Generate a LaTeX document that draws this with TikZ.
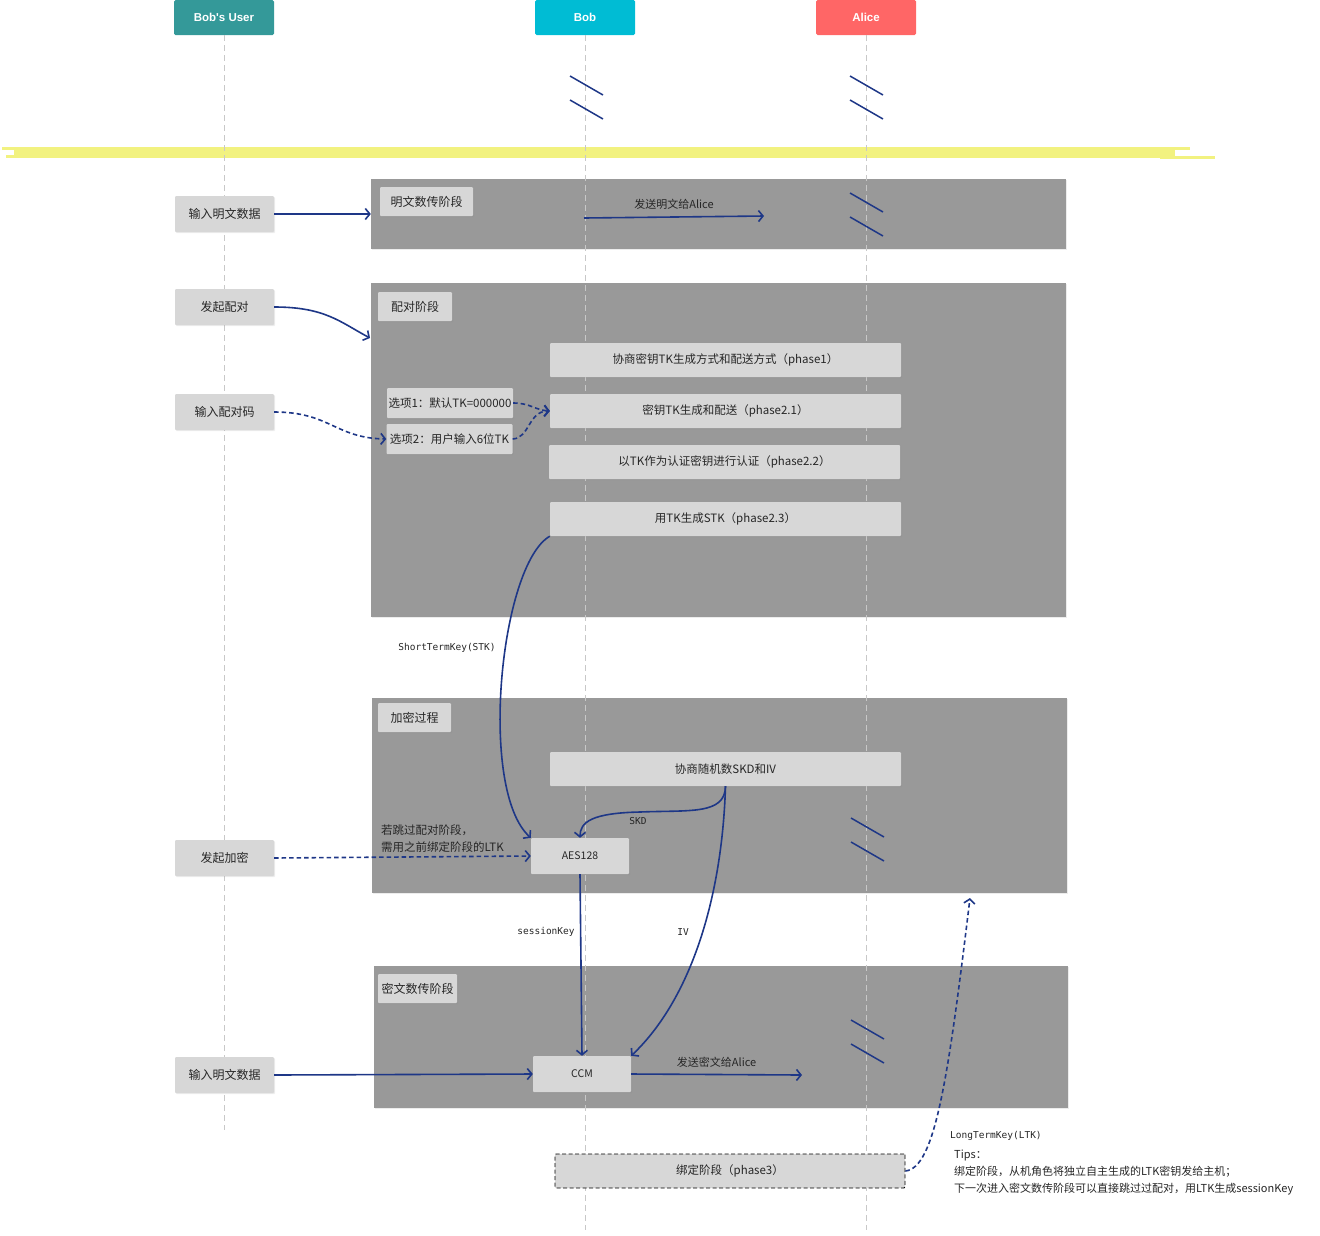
\documentclass[tikz,border=0pt]{standalone}
\usepackage{fontspec}
\setmainfont{Noto Sans CJK SC}
\newfontfamily\headfont{Liberation Sans}
\newfontfamily\monofont{DejaVu Sans Mono}
\usetikzlibrary{arrows.meta,shadows}

\definecolor{hdteal}{RGB}{52,153,153}
\definecolor{hdcyan}{RGB}{0,188,212}
\definecolor{hdred}{RGB}{255,102,102}
\definecolor{zonegray}{RGB}{153,153,153}
\definecolor{boxgray}{RGB}{215,215,215}
\definecolor{lifegray}{RGB}{200,200,200}
\definecolor{txtgray}{RGB}{38,38,38}
\definecolor{flowblue}{RGB}{30,55,135}
\definecolor{hilite}{RGB}{242,242,128}

\tikzset{
  head/.style={fill=#1, text=white, font=\headfont\bfseries\fontsize{11.5}{13}\selectfont,
    minimum width=100pt, minimum height=35pt, rounded corners=1.5pt, inner sep=0pt},
  zone/.style={fill=zonegray, inner sep=0pt,
    drop shadow={opacity=.15, shadow xshift=1pt, shadow yshift=-1pt}},
  box/.style={fill=boxgray, text=txtgray, font=\fontsize{11.5}{13}\selectfont, inner sep=0pt,
    rounded corners=1pt, drop shadow={opacity=.15, shadow xshift=1pt, shadow yshift=-1pt}},
  btn/.style={box, minimum width=99pt, minimum height=36pt, font=\fontsize{12}{14}\selectfont},
  tag/.style={box, minimum height=29pt, font=\fontsize{12}{14}\selectfont},
  stagebox/.style={box, minimum width=351pt, minimum height=34pt},
  optbox/.style={box, minimum width=126pt, minimum height=30pt},
  keybox/.style={box, minimum width=98pt, minimum height=36pt, font=\fontsize{10.5}{12}\selectfont},
  bindbox/.style={fill=boxgray, text=txtgray, font=\fontsize{11.5}{13}\selectfont, inner sep=0pt,
    minimum width=350pt, minimum height=34pt, draw=black, line width=.8pt,
    dash pattern=on 4pt off 2.5pt, rounded corners=1pt},
  life/.style={draw=lifegray, line width=.9pt, dash pattern=on 6pt off 4pt},
  brk/.style={draw=flowblue, line width=1.5pt},
  flow/.style={draw=flowblue, line width=1.6pt, -{Straight Barb[length=4.5pt,width=11pt]}},
  dotflow/.style={dash pattern=on 4.5pt off 3pt},
  cntext/.style={text=txtgray, font=\fontsize{11.5}{17}\selectfont, inner sep=1pt},
  keytext/.style={text=txtgray, font=\monofont\fontsize{9.5}{12}\selectfont, inner sep=1pt}
}

\begin{document}
\begin{tikzpicture}[x=1pt,y=-1pt]
\useasboundingbox (0,0) rectangle (1320,1235);
% heads
\node[head=hdteal] (user) at (224,17.5) {Bob's User};
\node[head=hdcyan] (bob) at (585,17.5) {Bob};
\node[head=hdred] (alice) at (866,17.5) {Alice};
% highlight band
\draw[hilite, line width=11pt] (14,152.5) -- (1175,152.5);
\draw[hilite, line width=3pt] (2,148.5) -- (50,148.5) (6,156) -- (30,156) (1150,148) -- (1190,148) (1160,157) -- (1215,157);
% zones
\node[zone, minimum width=695pt, minimum height=70pt] (zplain) at (718.5,214) {};
\node[zone, minimum width=695pt, minimum height=334pt] (zpair) at (718.5,450) {};
\node[zone, minimum width=695pt, minimum height=195pt] (zenc) at (719.5,795.5) {};
\node[zone, minimum width=694pt, minimum height=142pt] (zcipher) at (721,1037) {};
% lifelines
\coordinate (userend) at (224,1130);
\coordinate (bobend) at (585,1230);
\coordinate (aliceend) at (866,1230);
\draw[life] (user.south) -- (userend);
\draw[life] (bob.south) -- (bobend);
\draw[life] (alice.south) -- (aliceend);
% breaks
\foreach \x/\y in {586/76, 866/76, 866/193, 867/818, 867/1020} {
  \draw[brk] (\x-16,\y) -- (\x+17,\y+19);
  \draw[brk] (\x-16,\y+24) -- (\x+17,\y+43);
}
% user actions
\node[btn] (inplain) at (224.5,214) {输入明文数据};
\node[btn] (pairbtn) at (224.5,307) {发起配对};
\node[btn] (codebtn) at (224.5,412) {输入配对码};
\node[btn] (encbtn) at (224.5,858) {发起加密};
\node[btn] (incipher) at (224.5,1075) {输入明文数据};
% zone tags
\node[tag, minimum width=93pt] (tplain) at (426.5,201.5) {明文数传阶段};
\node[tag, minimum width=74pt] (tpair) at (415,306.5) {配对阶段};
\node[tag, minimum width=73pt] (tenc) at (414.5,717.5) {加密过程};
\node[tag, minimum width=79pt] (tcipher) at (417.5,988.5) {密文数传阶段};
% pairing
\node[stagebox] (ph1) at (725.5,360) {协商密钥TK生成方式和配送方式（phase1）};
\node[stagebox] (ph21) at (725.5,411) {密钥TK生成和配送（phase2.1）};
\node[stagebox] (ph22) at (724.5,462) {以TK作为认证密钥进行认证（phase2.2）};
\node[stagebox] (ph23) at (725.5,519) {用TK生成STK（phase2.3）};
\node[optbox] (opt1) at (450,403) {选项1：默认TK=000000};
\node[optbox] (opt2) at (449.5,439) {选项2：用户输入6位TK};
% encryption
\node[stagebox] (skdiv) at (725.5,769) {协商随机数SKD和IV};
\node[keybox] (aes) at (580,856) {AES128};
\node[keybox] (ccm) at (582,1074) {CCM};
\node[bindbox] (bind) at (730,1171) {绑定阶段（phase3）};

% plain data
\draw[flow] (inplain.east) -- (inplain.east -| zplain.west);
\coordinate (sendA) at (584,218);
\coordinate (sendB) at (764,216);
\draw[flow] (sendA) -- node[above=6pt, cntext, font=\fontsize{11}{12}\selectfont] (sendplain) {发送明文给Alice} (sendB);
% pairing
\coordinate (pairin) at (370,338);
\draw[flow] (pairbtn.east) .. controls (325,307) and (340,322) .. (pairin);
\draw[flow, dotflow] (codebtn.east) .. controls (330,412) and (335,438) .. (opt2.west);
\draw[flow, dotflow] (opt1.east) .. controls (530,403) and (535,410) .. (ph21.west);
\draw[flow, dotflow] (opt2.east) .. controls (530,438) and (528,411) .. (ph21.west);
\draw[flow] (ph23.south west) .. controls (500,565) and (478,790) .. (aes.north west);
\node[keytext] (stklabel) at (447,648) {ShortTermKey(STK)};
% encryption
\draw[flow] (skdiv.south) .. controls (725,815) and (690,810) .. (640,812) .. controls (592,813) and (580,822) .. (aes.north);
\node[keytext] (skdlabel) at (638,821) {SKD};
\draw[flow] (skdiv.south) .. controls (722,900) and (690,1000) .. (ccm.north east);
\node[keytext] (ivlabel) at (683,932) {IV};
\draw[flow] (aes.south) -- (ccm.north);
\node[keytext] (sklabel) at (546,932) {sessionKey};
\draw[flow, dotflow] (encbtn.east) -- (aes.west);
\node[cntext, align=left, anchor=west] (skipnote) at (380,838.5) {若跳过配对阶段，\\需用之前绑定阶段的LTK};
% cipher data
\draw[flow] (incipher.east) -- (ccm.west);
\coordinate (sendD) at (802,1075);
\draw[flow] (ccm.east) -- node[above=5pt, cntext, font=\fontsize{11}{12}\selectfont] (sendcipher) {发送密文给Alice} (sendD);
% bonding
\coordinate (ltkend) at (970,898);
\draw[flow, dotflow] (bind.east) .. controls (935,1168) and (948,1080) .. (ltkend);
\node[keytext, anchor=west] (ltklabel) at (949,1136) {LongTermKey(LTK)};
\node[cntext, anchor=north west, align=left, inner sep=0pt, font=\fontsize{11}{17}\selectfont] (tips) at (954,1150)
  {Tips：\\绑定阶段，从机角色将独立自主生成的LTK密钥发给主机；\\下一次进入密文数传阶段可以直接跳过过配对，用LTK生成sessionKey};
\end{tikzpicture}
\end{document}
